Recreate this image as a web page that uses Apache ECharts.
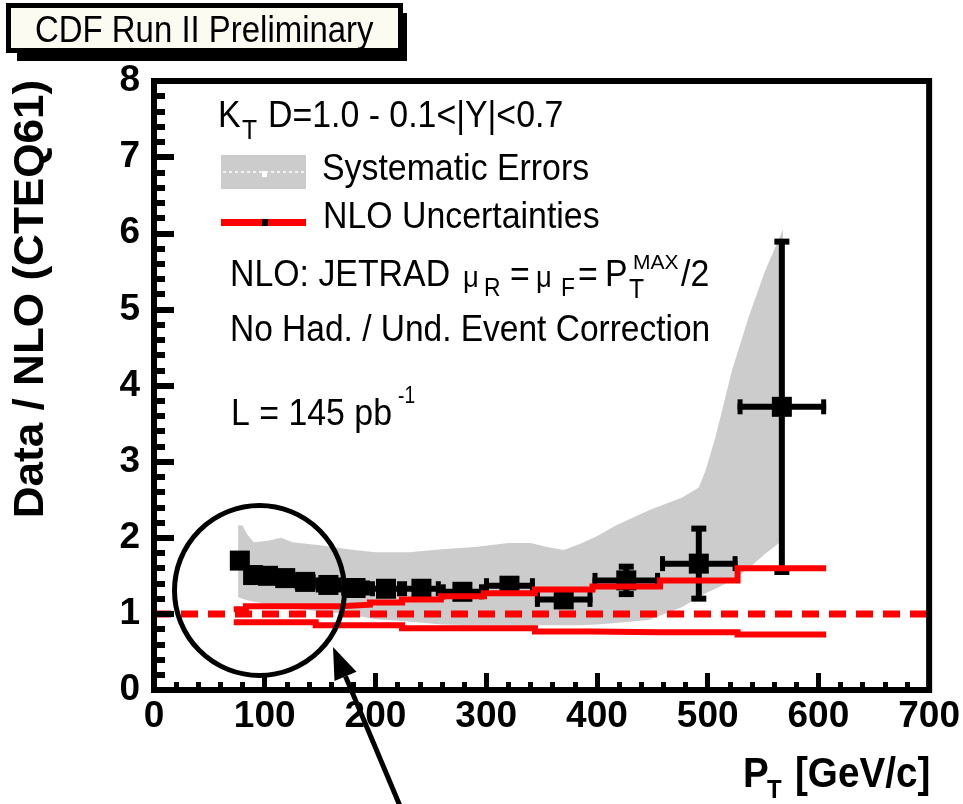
<!DOCTYPE html>
<html>
<head>
<meta charset="utf-8">
<script src="https://cdn.jsdelivr.net/npm/echarts@6/dist/echarts.min.js"></script>
<style>
  html, body { margin: 0; padding: 0; background: #ffffff; }
  #chart { width: 963px; height: 804px; }
</style>
</head>
<body>
<div id="chart"></div>
<script>
// Axis ticks
const xTickValues = [0, 100, 200, 300, 400, 500, 600, 700];
const yTickValues = [0, 1, 2, 3, 4, 5, 6, 7, 8];

// pT bin edges [GeV/c]
const binEdges = [72, 83, 96, 110, 127, 146, 169, 195, 224, 259, 298, 344, 396, 457, 527, 607];

// Measured Data / NLO ratio per bin
const ptCenters = [77.5, 89.5, 103, 118.5, 136.5, 157.5, 182, 209.5, 241.5, 278.5, 321, 370, 426.5, 492, 567];
const ratio     = [1.70, 1.51, 1.50, 1.47, 1.42, 1.38, 1.34, 1.33, 1.33, 1.29, 1.37, 1.19, 1.44, 1.66, 3.72];
const statErr   = [0.02, 0.02, 0.02, 0.02, 0.02, 0.02, 0.02, 0.03, 0.03, 0.04, 0.05, 0.08, 0.18, 0.46, 2.17];

// Systematic error band (lower / upper envelope)
const sysPt = [76, 80, 84, 90, 103, 115, 125, 150, 175, 200, 230, 260, 290, 320, 340, 355, 370, 385, 400, 417, 447, 477, 492, 498, 507, 522, 537, 552, 568];
const sysHi = [2.16, 2.16, 2.05, 1.94, 1.96, 2.00, 1.94, 1.90, 1.85, 1.81, 1.81, 1.85, 1.88, 1.93, 1.93, 1.88, 1.84, 1.92, 2.02, 2.16, 2.36, 2.53, 2.66, 2.88, 3.32, 4.20, 4.90, 5.51, 6.05];
const sysLo = [1.22, 1.20, 1.18, 1.16, 1.13, 1.10, 1.07, 1.03, 1.00, 0.93, 0.90, 0.86, 0.85, 0.85, 0.85, 0.85, 0.85, 0.85, 0.86, 0.88, 0.92, 1.09, 1.22, 1.27, 1.33, 1.44, 1.60, 1.79, 1.97];

// NLO (CTEQ61) uncertainty envelope per bin
const nloUpper = [1.06, 1.10, 1.10, 1.10, 1.10, 1.10, 1.12, 1.15, 1.19, 1.23, 1.27, 1.32, 1.36, 1.44, 1.60];
const nloLower = [0.89, 0.89, 0.89, 0.89, 0.89, 0.85, 0.85, 0.85, 0.81, 0.81, 0.81, 0.77, 0.76, 0.76, 0.73];

// Reference line Data / NLO = 1
const refX = [0, 700];
const refY = 1;

const FONT = '"Liberation Sans", Arial, Helvetica, sans-serif';

function stepData(vals) {
  const d = [];
  vals.forEach((v, i) => {
    d.push([binEdges[i], v]);
    d.push([binEdges[i + 1], v]);
  });
  return d;
}

// text placed by left edge and alphabetic baseline
function txt(text, left, baseline, size, opt) {
  opt = opt || {};
  return {
    type: 'text',
    x: left,
    y: baseline - 0.3465 * size,
    scaleX: opt.sx !== undefined ? opt.sx : 0.915,
    z: 100,
    style: {
      text: text,
      x: 0, y: 0,
      fill: '#000',
      fontSize: size,
      fontFamily: FONT,
      fontWeight: opt.bold ? 'bold' : 'normal',
      textAlign: 'left', align: 'left',
      textVerticalAlign: 'middle', verticalAlign: 'middle'
    }
  };
}

const chart = echarts.init(document.getElementById('chart'), null, { renderer: 'canvas' });

const axisCommon = {
  type: 'value',
  z: 10,
  splitLine: { show: false },
  axisLine: { show: true, lineStyle: { color: '#000', width: 6 } },
  axisLabel: { color: '#000', fontSize: 37, fontWeight: 'bold', fontFamily: FONT }
};

const option = {
  animation: false,
  backgroundColor: '#ffffff',
  grid: {
    left: 154, right: 32, top: 81, bottom: 114,
    show: true, borderColor: '#000', borderWidth: 6, backgroundColor: 'transparent', z: 10
  },
  xAxis: Object.assign({}, axisCommon, {
    min: xTickValues[0],
    max: xTickValues[xTickValues.length - 1],
    interval: xTickValues[1] - xTickValues[0],
    axisTick: { show: true, inside: true, length: 17, lineStyle: { color: '#000', width: 5 } },
    minorTick: { show: true, splitNumber: 5, length: 8, lineStyle: { color: '#000', width: 5 } },
    axisLabel: Object.assign({}, axisCommon.axisLabel, { margin: 8 })
  }),
  yAxis: Object.assign({}, axisCommon, {
    min: yTickValues[0],
    max: yTickValues[yTickValues.length - 1],
    interval: yTickValues[1] - yTickValues[0],
    axisTick: { show: true, inside: true, length: 20, lineStyle: { color: '#000', width: 6 } },
    minorTick: { show: true, splitNumber: 5, length: 11, lineStyle: { color: '#000', width: 6 } },
    axisLabel: Object.assign({}, axisCommon.axisLabel, { margin: 14 })
  }),
  series: [
    {
      // systematic error band
      type: 'custom',
      z: 1,
      data: sysPt.map((p, i) => [p, sysLo[i], sysHi[i]]),
      encode: { x: 0, y: [1, 2] },
      renderItem: function (params, api) {
        if (params.dataIndex !== 0) return null;
        const pts = [];
        for (let i = 0; i < sysPt.length; i++) pts.push(api.coord([sysPt[i], sysHi[i]]));
        for (let i = sysPt.length - 1; i >= 0; i--) pts.push(api.coord([sysPt[i], sysLo[i]]));
        return { type: 'polygon', shape: { points: pts }, style: { fill: '#cccccc' } };
      }
    },
    {
      // data points with bin-width and statistical error bars
      type: 'custom',
      z: 3,
      data: ptCenters.map((p, i) => [p, ratio[i], statErr[i], binEdges[i], binEdges[i + 1]]),
      encode: { x: 0, y: 1 },
      renderItem: function (params, api) {
        const x = api.value(0), y = api.value(1), e = api.value(2);
        const lo = api.value(3), hi = api.value(4);
        const c = api.coord([x, y]);
        const pl = api.coord([lo, y]);
        const ph = api.coord([hi, y]);
        const pt = api.coord([x, y + e]);
        const pb = api.coord([x, y - e]);
        const lw = 6, capW = 5, capH = 15, vcapW = 15, sq = 20;
        const st = { fill: '#000' };
        return {
          type: 'group',
          children: [
            { type: 'rect', shape: { x: pl[0], y: c[1] - lw / 2, width: ph[0] - pl[0], height: lw }, style: st },
            { type: 'rect', shape: { x: pl[0], y: c[1] - capH / 2, width: capW, height: capH }, style: st },
            { type: 'rect', shape: { x: ph[0] - capW, y: c[1] - capH / 2, width: capW, height: capH }, style: st },
            { type: 'rect', shape: { x: c[0] - lw / 2, y: pt[1], width: lw, height: pb[1] - pt[1] }, style: st },
            { type: 'rect', shape: { x: c[0] - vcapW / 2, y: pt[1] - 3, width: vcapW, height: 6 }, style: st },
            { type: 'rect', shape: { x: c[0] - vcapW / 2, y: pb[1] - 3, width: vcapW, height: 6 }, style: st },
            { type: 'rect', shape: { x: c[0] - sq / 2, y: c[1] - sq / 2, width: sq, height: sq }, style: st }
          ]
        };
      }
    },
    {
      name: 'NLO upper',
      type: 'line',
      z: 4,
      data: stepData(nloUpper),
      symbol: 'none',
      lineStyle: { color: '#ff0000', width: 6, join: 'miter', cap: 'butt' }
    },
    {
      name: 'NLO lower',
      type: 'line',
      z: 4,
      data: stepData(nloLower),
      symbol: 'none',
      lineStyle: { color: '#ff0000', width: 6, join: 'miter', cap: 'butt' }
    },
    {
      name: 'Reference',
      type: 'line',
      z: 4,
      data: refX.map(v => [v, refY]),
      symbol: 'none',
      lineStyle: { color: '#ff0000', width: 7, type: [17, 10], cap: 'butt' }
    }
  ],
  graphic: {
    elements: [
      // title box with shadow
      { type: 'rect', z: 90, shape: { x: 17, y: 13, width: 390, height: 48 }, style: { fill: '#000' } },
      { type: 'rect', z: 91, shape: { x: 8.5, y: 5.5, width: 392, height: 45 }, style: { fill: '#fbfbf1', stroke: '#000', lineWidth: 5 } },
      txt('CDF Run II Preliminary', 35, 45, 37, { sx: 0.89 }),

      // selection header
      txt('K', 218, 130, 37),
      txt('T', 242, 141, 27),
      txt('D=1.0 - 0.1<|Y|<0.7', 268, 130, 37),

      // legend: systematic errors
      { type: 'rect', z: 95, shape: { x: 221, y: 155, width: 85, height: 34 }, style: { fill: '#cccccc' } },
      { type: 'line', z: 96, shape: { x1: 223, y1: 172, x2: 304, y2: 172 }, style: { stroke: '#f2f2f2', lineWidth: 2, lineDash: [3, 3] } },
      { type: 'rect', z: 96, shape: { x: 262, y: 171, width: 5, height: 6 }, style: { fill: '#ffffff' } },
      txt('Systematic Errors', 322, 183, 37),

      // legend: NLO uncertainties
      { type: 'rect', z: 95, shape: { x: 221, y: 219, width: 85, height: 7 }, style: { fill: '#ff0000' } },
      { type: 'rect', z: 96, shape: { x: 262, y: 219, width: 6, height: 7 }, style: { fill: '#000' } },
      txt('NLO Uncertainties', 323, 231, 37),

      // theory description
      txt('NLO: JETRAD', 230, 289, 37),
      txt('\u03bc', 463, 289, 30),
      txt('R', 484, 298, 25),
      txt('=', 510, 289, 37),
      txt('\u03bc', 536, 289, 30),
      txt('F', 561, 298, 25),
      txt('=', 578, 289, 37),
      txt('P', 605, 289, 37),
      txt('T', 629, 300, 27),
      txt('MAX', 633, 270, 21, { sx: 1 }),
      txt('/2', 681, 289, 37),
      txt('No Had. / Und. Event Correction', 230, 344, 37, { sx: 0.905 }),

      // luminosity
      txt('L = 145 pb', 231, 428, 37),
      txt('-1', 398, 405, 24, { sx: 0.8 }),

      // axis titles
      {
        type: 'text', x: 31.5, y: 299, rotation: Math.PI / 2, scaleX: 1.05, z: 100,
        style: {
          text: 'Data / NLO (CTEQ61)', x: 0, y: 0, fill: '#000',
          fontSize: 42, fontFamily: FONT, fontWeight: 'bold',
          textAlign: 'center', align: 'center', textVerticalAlign: 'middle', verticalAlign: 'middle'
        }
      },
      txt('P', 743, 790, 42, { bold: true, sx: 0.92 }),
      txt('T', 767, 800, 26, { bold: true, sx: 0.92 }),
      txt('[GeV/c]', 795, 790, 42, { bold: true, sx: 0.92 }),

      // highlight circle and arrow
      { type: 'circle', z: 120, shape: { cx: 259.5, cy: 590.5, r: 85 }, style: { fill: null, stroke: '#000', lineWidth: 5 } },
      { type: 'line', z: 120, shape: { x1: 400, y1: 806, x2: 345.5, y2: 676.4 }, style: { stroke: '#000', lineWidth: 5 } },
      { type: 'polygon', z: 120, shape: { points: [[333, 647], [356.5, 671.7], [334.5, 681.1]] }, style: { fill: '#000' } }
    ]
  }
};

chart.setOption(option);
</script>
</body>
</html>
